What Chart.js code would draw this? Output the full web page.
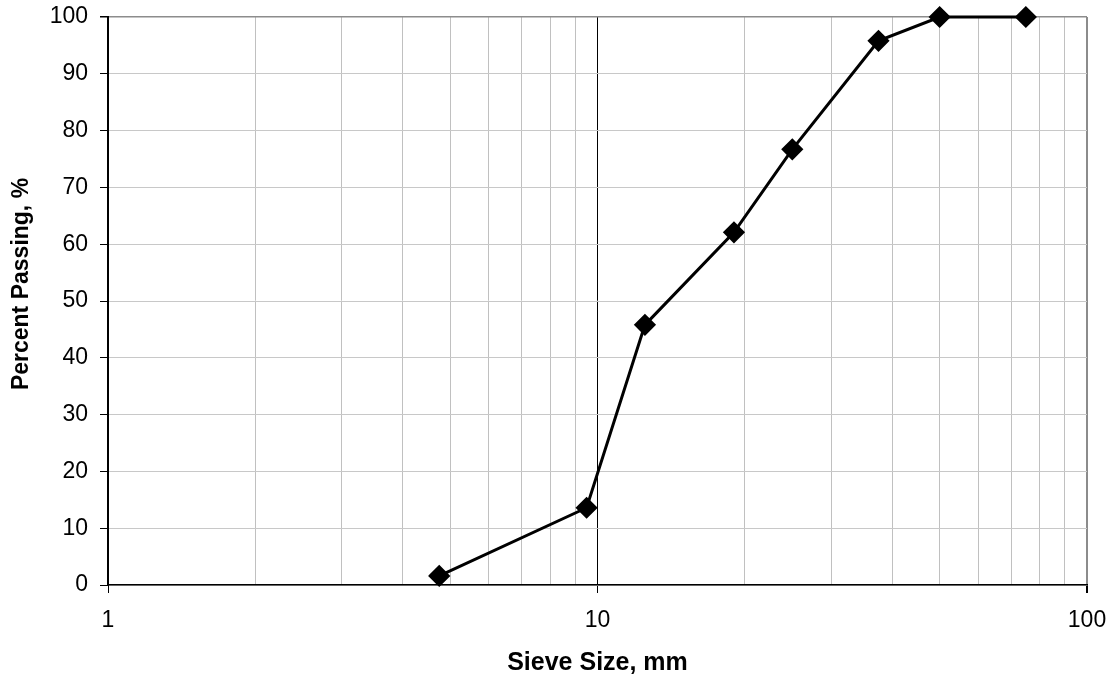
<!DOCTYPE html>
<html>
<head>
<meta charset="utf-8">
<script src="https://cdn.jsdelivr.net/npm/chart.js@4"></script>
<style>
html,body{margin:0;padding:0;background:#fff;}
#wrap{width:1115px;height:675px;}
</style>
</head>
<body>
<div id="wrap"><canvas id="c" width="1115" height="675"></canvas></div>
<script>
const sieveSizes = [4.75, 9.5, 12.5, 19, 25, 37.5, 50, 75];
const percentPassing = [1.6, 13.6, 45.8, 62.1, 76.7, 95.8, 100, 100];
const xTicks = [1,2,3,4,5,6,7,8,9,10,20,30,40,50,60,70,80,90,100];
const xLabels = [1, 10, 100];
const yTicks = [0,10,20,30,40,50,60,70,80,90,100];
const xTitle = 'Sieve Size, mm';
const yTitle = 'Percent Passing, %';

const font = "'Liberation Sans', Arial, sans-serif";

const yTitlePlugin = {
  id: 'yTitle',
  afterDraw(chart) {
    const ctx = chart.ctx;
    ctx.save();
    ctx.translate(22, 284);
    ctx.rotate(-Math.PI / 2);
    ctx.font = 'bold 23px ' + font;
    ctx.fillStyle = '#000';
    ctx.textAlign = 'center';
    ctx.textBaseline = 'middle';
    ctx.fillText(yTitle, 0, 0);
    ctx.restore();
  }
};

new Chart(document.getElementById('c'), {
  type: 'line',
  data: {
    datasets: [{
      data: sieveSizes.map((x, i) => ({x: x, y: percentPassing[i]})),
      borderColor: '#000',
      backgroundColor: '#000',
      borderWidth: 3,
      pointStyle: 'rectRot',
      pointRadius: 9,
      pointHoverRadius: 9,
      tension: 0,
      clip: false
    }]
  },
  options: {
    responsive: false,
    animation: false,
    layout: {padding: {left: 0, right: 28, top: 17, bottom: 0}},
    plugins: {legend: {display: false}, tooltip: {enabled: false}},
    scales: {
      x: {
        type: 'logarithmic',
        min: 1, max: 100,
        afterBuildTicks: s => { s.ticks = xTicks.map(v => ({value: v})); },
        afterFit: s => { s.height = 90; s.paddingLeft = 0; s.paddingRight = 0; },
        border: {color: '#000', width: 1.5},
        grid: {
          color: c => (c.tick && c.tick.value === 10) ? '#000' : (c.tick && c.tick.value === 100 ? '#8c8c8c' : '#c0c0c0'),
          lineWidth: c => (c.tick && c.tick.value === 100) ? 2 : 1,
          tickColor: c => (c.tick && xLabels.includes(c.tick.value)) ? '#000' : 'rgba(0,0,0,0)',
          tickLength: 8
        },
        ticks: {
          autoSkip: false,
          maxRotation: 0,
          padding: 14,
          color: '#000',
          font: {family: font, size: 23},
          callback: v => xLabels.includes(v) ? String(v) : ''
        },
        title: {
          display: true,
          text: xTitle,
          color: '#000',
          font: {family: font, size: 25, weight: 'bold'},
          padding: {top: 10, bottom: -3}
        }
      },
      y: {
        min: 0, max: 100,
        afterBuildTicks: s => { s.ticks = yTicks.map(v => ({value: v})); },
        afterFit: s => { s.width = 108; s.paddingTop = 0; s.paddingBottom = 0; },
        border: {color: '#000', width: 2},
        grid: {
          color: c => (c.tick && c.tick.value === 100) ? '#8c8c8c' : '#c8c8c8',
          lineWidth: c => (c.tick && c.tick.value === 100) ? 1.5 : 1,
          tickColor: '#000',
          tickLength: 8
        },
        ticks: {
          padding: 12,
          color: '#000',
          font: {family: font, size: 23}
        },
        title: {display: false}
      }
    }
  },
  plugins: [yTitlePlugin]
});
</script>
</body>
</html>
